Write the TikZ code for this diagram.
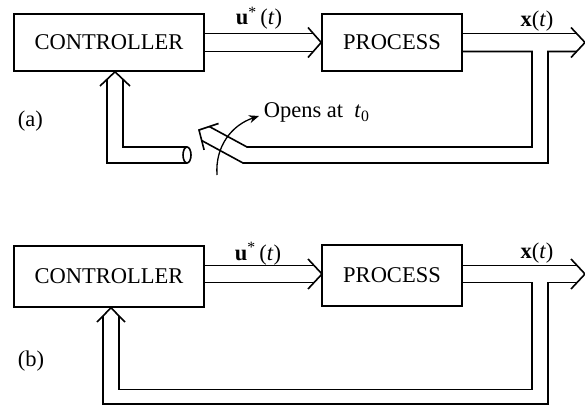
\documentclass[tikz,border=0pt]{standalone}
\usepackage{fontspec}
\setmainfont{Liberation Serif}
\usetikzlibrary{arrows.meta,calc}
\begin{document}
\begin{tikzpicture}[x=1pt,y=-1pt,line width=1.6pt,
  every node/.style={font=\fontsize{22.5}{27}\selectfont,inner sep=0pt},
  box/.style={draw,rectangle,inner sep=0pt},
  pipe/.style={line join=miter},
  curvearrow/.style={line width=1.3pt,-{Stealth[length=10pt,width=8pt]}}]
\useasboundingbox (0,0) rectangle (585,406);

% ---------------- Panel (a) ----------------
\node[box,minimum width=190pt,minimum height=57pt] (ctrlA) at (109,42.5) {CONTROLLER};
\node[box,minimum width=140pt,minimum height=57pt] (procA) at (392,42.5) {PROCESS};
\node[anchor=base] (uA) at (259,25) {\textbf{u}\textsuperscript{*}\,(\textit{t})};
\node[anchor=base] (xA) at (537,27) {\textbf{x}(\textit{t})};
\node[anchor=base west] (labA) at (17,127) {(a)};
\node[anchor=base west] (opens) at (263,118) {Opens at \ \textit{t}\textsubscript{0}};

% control double arrow
\draw[pipe] (ctrlA.east |- 0,33.5) -- (313.6,33.5);
\draw[pipe] (ctrlA.east |- 0,51.5) -- (313.6,51.5);
\draw[pipe] (308,27.5) -- (procA.west) -- (308,57.5);

% output double arrow with feedback branch
\coordinate (outA) at (585,42.5);
\draw[pipe] (procA.east |- 0,33.5) -- (576.6,33.5);
\draw[pipe] (procA.east |- 0,51.5) -- (532,51.5) -- (532,147) -- (247,147) -- (209.4,126.6);
\draw[pipe] (576.6,51.5) -- (548,51.5) -- (548,163) -- (243,163) -- (201.8,140.6);
\draw[pipe] (571,27.5) -- (outA) -- (571,57.5);
% broken-end arrowhead
\draw[pipe] (218.5,123.5) -- (199,130) -- (204.1,149.9);

% feedback stub into controller
\draw[pipe] (107,79) -- (107,163) -- (187,163);
\draw[pipe] (123,79) -- (123,147) -- (187,147);
\draw[pipe] (100,86) -- (ctrlA.south -| 115,0) -- (130,86);
\draw (187,155) ellipse [x radius=4pt, y radius=8pt];

% switch arrow
\draw[curvearrow] (217,175) .. controls (215,146) and (232,125) .. (259,116);

% ---------------- Panel (b) ----------------
\node[box,minimum width=190pt,minimum height=61pt] (ctrlB) at (109,276.5) {CONTROLLER};
\node[box,minimum width=140pt,minimum height=61pt] (procB) at (392,275.5) {PROCESS};
\node[anchor=base] (uB) at (258,260) {\textbf{u}\textsuperscript{*}\,(\textit{t})};
\node[anchor=base] (xB) at (537,258) {\textbf{x}(\textit{t})};
\node[anchor=base west] (labB) at (17,366) {(b)};

\draw[pipe] (ctrlB.east |- 0,265.5) -- (314,265.5);
\draw[pipe] (ctrlB.east |- 0,282.5) -- (314,282.5);
\draw[pipe] (308,259) -- (322,274) -- (308,289);

\coordinate (outB) at (585,274);
\draw[pipe] (procB.east |- 0,265.5) -- (577,265.5);
\draw[pipe] (procB.east |- 0,282.5) -- (532,282.5) -- (532,389.5) -- (119,389.5) -- (119,315.6);
\draw[pipe] (577,282.5) -- (548,282.5) -- (548,404) -- (103,404) -- (103,315.6);
\draw[pipe] (571,259) -- (outB) -- (571,289);
\draw[pipe] (97,322) -- (ctrlB.south -| 111,0) -- (125,322);
\end{tikzpicture}
\end{document}
